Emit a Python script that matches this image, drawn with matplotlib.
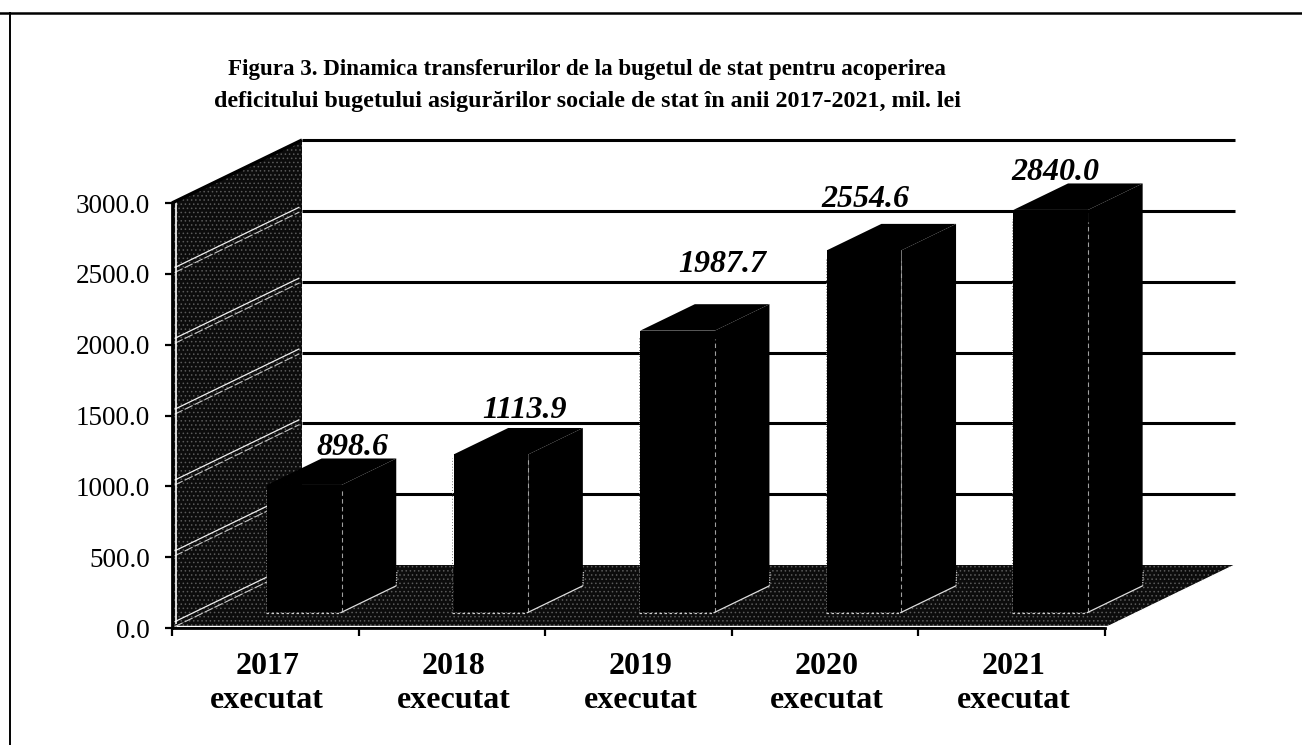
import matplotlib
matplotlib.use("Agg")
import matplotlib.pyplot as plt
from matplotlib.patches import Polygon
from matplotlib.lines import Line2D

years = ["2017", "2018", "2019", "2020", "2021"]
status = "executat"
values = [898.6, 1113.9, 1987.7, 2554.6, 2840.0]
value_labels = ["898.6", "1113.9", "1987.7", "2554.6", "2840.0"]
y_ticks = [0, 500, 1000, 1500, 2000, 2500, 3000]
title_lines = ["Figura 3. Dinamica transferurilor de la bugetul de stat pentru acoperirea",
               "deficitului bugetului asigurărilor sociale de stat în anii 2017-2021, mil. lei"]
label_dx = [85, 71, 82, 39, 42]
label_dy = [30, 36, 59, 43, 30]

W, H = 1302, 745
plt.rcParams['font.family'] = ['Liberation Serif', 'DejaVu Serif']
plt.rcParams['hatch.linewidth'] = 0.6
fig = plt.figure(figsize=(W / 100, H / 100), dpi=100, facecolor='white')
x0, x1, y0, y1 = 172, 1105, 628, 203
ax = fig.add_axes([x0 / W, 1 - y0 / H, (x1 - x0) / W, (y0 - y1) / H])
ax.set_xlim(0, 5)
ax.set_ylim(0, 3000)
ax.patch.set_visible(False)

DX = 130 / 186.6
DY = 63 / (425 / 3000)

def proj(x, y, d):
    return (x + d * DX, y + d * DY)

def face(pts, zorder, fc='black', hatch=None, ec='none', lw=0):
    p = Polygon([proj(*q) for q in pts], closed=True, facecolor=fc, edgecolor=ec,
                hatch=hatch, linewidth=lw, zorder=zorder, clip_on=False)
    ax.add_patch(p)

def seg(a, b, zorder, **kw):
    pa, pb = proj(*a), proj(*b)
    ax.plot([pa[0], pb[0]], [pa[1], pb[1]], zorder=zorder, clip_on=False,
            solid_capstyle='butt', **kw)

top = y_ticks[-1]
# left wall and floor
face([(0, 0, 0), (0, 0, 1), (0, top, 1), (0, top, 0)], 1, fc='#0c0c0c', hatch='....', ec='#5a5a5a')
face([(0, 0, 0), (5, 0, 0), (5, 0, 1), (0, 0, 1)], 1, fc='#0c0c0c', hatch='....', ec='#5a5a5a')
# gridlines on the back wall and white doubled lines on the left wall
for t in y_ticks[1:]:
    seg((0, t, 1), (5, t, 1), 2, color='black', lw=2.2)
for t in y_ticks[:-1]:
    seg((0, t + 35, 0.02), (0, t + 35, 0.98), 3, color='#f0f0f0', lw=0.9)
    seg((0, t, 0.02), (0, t, 0.98), 3, color='#c8c8c8', lw=0.8, ls=(0, (8, 2)))
seg((0, top, 0), (0, top, 1), 4, color='black', lw=2.4)
seg((0, 18, 0.03), (0, top - 8, 0.03), 3, color='white', lw=1.2)
seg((0, 0, 0.03), (5, 0, 0.03), 3, color='white', lw=1.0)
seg((5, 0, 0), (5, 0, 1), 3, color='white', lw=1.0)

# bars
centre = 0.535
width = 0.40
d0, d1 = 0.25, 0.67
for i, v in enumerate(values):
    xl = i + centre - width / 2
    xr = xl + width
    ax.bar(i + centre + d0 * DX, v, width=width, bottom=d0 * DY, color='black', zorder=6, clip_on=False)
    face([(xl, v, d0), (xr, v, d0), (xr, v, d1), (xl, v, d1)], 6)
    face([(xr, 0, d0), (xr, 0, d1), (xr, v, d1), (xr, v, d0)], 6)
    seg((xr, 0, d0), (xr, v * 0.97, d0), 7, color='#a0a0a0', lw=0.8, ls=(0, (4, 3)))
    seg((xl, 0, d0 - 0.01), (xr, 0, d0 - 0.01), 7, color='#cccccc', lw=0.9, ls=(0, (2, 2)))
    seg((xl, 0, d0 - 0.01), (xl, v * 0.98, d0 - 0.01), 7, color='#777777', lw=0.7, ls=(0, (1, 2)))
    seg((xr, 0, d0 - 0.01), (xr, 0, d1), 7, color='#dddddd', lw=0.9)
    seg((xr, 0, d1), (xr, 100, d1 + 0.005), 7, color='#cccccc', lw=0.9, ls=(0, (1, 1)))
    ax.annotate(value_labels[i], xy=(xl + d0 * DX, v + d0 * DY), xytext=(label_dx[i], label_dy[i]),
                textcoords='offset pixels', ha='center', va='baseline', fontsize=23,
                fontweight='bold', fontstyle='italic', color='black', zorder=8, annotation_clip=False)

# axes
for s in ('top', 'right'):
    ax.spines[s].set_visible(False)
ax.spines['left'].set_linewidth(2.0)
ax.spines['bottom'].set_linewidth(2.0)
ax.spines['left'].set_zorder(5)
ax.spines['bottom'].set_zorder(5)
ax.set_yticks(y_ticks)
ax.set_yticklabels([f"{t:.1f}" for t in y_ticks], fontsize=19.5)
ax.tick_params(axis='y', length=5, width=1.6, pad=11)
ax.set_xticks(range(len(years) + 1))
ax.set_xticklabels([])
ax.set_xticks([i + 0.51 for i in range(len(years))], minor=True)
ax.set_xticklabels([f"{y}\n{status}" for y in years], minor=True, fontsize=23, fontweight='bold',
                    linespacing=1.25)
ax.tick_params(axis='x', which='major', length=6, width=1.6)
ax.tick_params(axis='x', which='minor', length=0, pad=17)

# title
fig.text(587 / W, 1 - 75 / H, title_lines[0], ha='center', va='baseline', fontsize=16.6, fontweight='bold')
fig.text(587 / W, 1 - 107 / H, title_lines[1], ha='center', va='baseline', fontsize=17.3, fontweight='bold')

# page frame
fig.add_artist(Line2D([0, 1], [1 - 13 / H, 1 - 13 / H], color='black', lw=1.8, transform=fig.transFigure))
fig.add_artist(Line2D([10 / W, 10 / W], [0, 1 - 13 / H], color='black', lw=1.4, transform=fig.transFigure))

fig.savefig("out.png", dpi=100)
